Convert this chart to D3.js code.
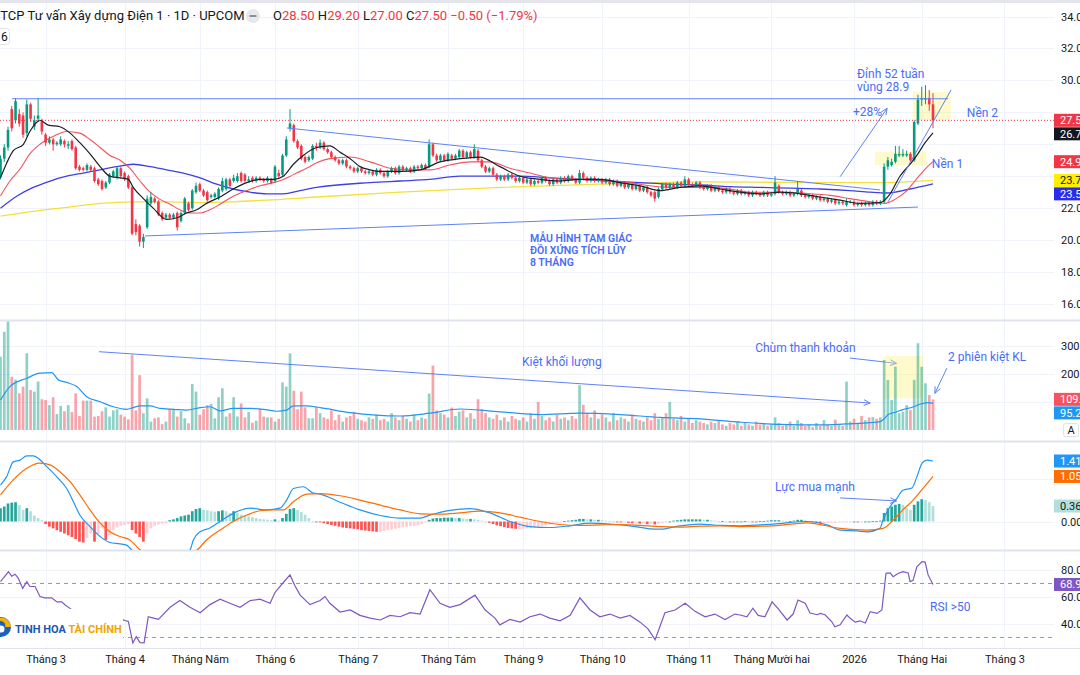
<!DOCTYPE html>
<html lang="vi">
<head>
<meta charset="utf-8">
<title>CTCP Tư vấn Xây dựng Điện 1 · 1D · UPCOM</title>
<script src="https://cdn.jsdelivr.net/npm/d3@7/dist/d3.min.js"></script>
<style>
html,body{margin:0;padding:0;background:#fff;}
svg{display:block;font-family:Roboto,"Noto Sans","DejaVu Sans",sans-serif;}
</style>
</head>
<body>
<svg id="chart" width="1080" height="675"></svg>
<script>
// ---------------- DATA ----------------
const opens = [24.0,25.1,25.8,28.2,27.5,27.9,27.8,26.7,28.5,27.1,
27.6,27.4,26.6,26.1,26.3,26.0,26.0,26.2,25.9,26.2,
25.8,24.6,24.5,24.4,24.6,24.5,23.8,23.7,23.3,23.6,
24.0,23.9,24.5,24.2,24.0,23.3,21.0,20.9,19.9,20.8,
22.3,22.6,22.4,21.7,21.4,21.6,21.4,21.7,21.2,21.7,
22.3,22.0,23.0,23.5,23.1,23.0,22.7,22.7,22.6,23.1,
23.2,23.8,23.7,23.7,24.2,24.1,23.7,23.9,23.7,23.9,
23.8,23.7,23.8,23.7,24.2,24.1,25.3,27.0,27.2,26.2,
25.9,25.2,25.0,25.1,25.9,25.8,26.1,25.7,25.5,25.2,
25.0,24.8,25.0,24.6,24.5,24.3,24.5,24.3,24.2,24.3,
24.1,24.4,24.2,24.0,24.3,24.5,24.2,24.6,24.4,24.5,
24.3,24.6,24.5,24.7,24.6,26.0,25.3,25.0,25.3,25.0,
25.3,25.1,25.2,25.6,25.2,25.5,25.2,25.6,25.0,24.6,
24.3,24.5,24.1,23.8,24.0,23.8,24.1,23.9,23.7,23.9,
23.6,23.8,23.5,23.7,23.6,23.9,23.7,23.5,23.8,23.6,
23.9,23.7,24.0,23.8,23.6,24.2,23.9,23.7,23.9,23.7,
23.8,23.6,23.8,23.5,23.7,23.4,23.6,23.3,23.5,23.2,
23.4,23.1,23.3,23.0,23.0,22.7,23.2,23.5,23.3,23.5,
23.3,23.6,23.4,23.8,23.5,23.4,23.6,23.3,23.2,23.4,
23.1,23.3,23.1,23.0,23.2,23.0,22.9,23.1,22.9,23.0,
22.8,23.0,22.9,22.8,23.0,22.8,22.9,23.4,23.0,22.9,
23.0,22.8,22.9,23.1,22.8,22.7,22.8,22.6,22.7,22.5,
22.6,22.4,22.5,22.3,22.4,22.2,22.4,22.4,22.2,22.3,
22.2,22.3,22.2,22.4,22.3,22.4,24.6,24.7,24.9,25.3,
25.3,25.3,25.4,25.0,27.3,28.8,28.8,28.9,28.5];
const highs = [25.3,26.0,27.1,28.4,28.9,28.2,28.0,28.8,28.6,27.8,
28.9,27.6,26.7,26.5,26.4,26.2,26.5,26.3,26.2,26.3,
25.9,24.7,24.6,24.8,24.7,24.6,23.9,23.8,23.7,24.2,
24.4,24.6,24.6,24.3,24.1,23.4,21.3,21.0,20.4,22.8,
23.0,22.7,22.5,21.8,21.7,21.7,21.7,21.8,21.8,22.7,
22.4,23.2,23.6,23.6,23.2,23.1,22.9,23.0,23.3,23.9,
23.9,23.9,24.1,24.2,24.3,24.2,24.0,24.0,24.0,24.0,
23.9,24.0,23.9,24.7,24.4,25.4,26.5,28.2,27.3,26.3,
26.0,25.3,25.3,26.0,26.1,26.3,26.2,25.8,25.6,25.3,
25.1,25.1,25.1,24.7,24.6,24.6,24.6,24.4,24.4,24.4,
24.5,24.5,24.3,24.4,24.6,24.6,24.7,24.7,24.6,24.6,
24.7,24.7,24.8,24.8,26.3,26.1,25.4,25.4,25.4,25.5,
25.4,25.4,25.7,25.7,25.6,25.6,26.0,25.7,25.1,24.7,
24.6,24.6,24.2,24.1,24.1,24.2,24.2,24.0,24.0,24.0,
23.9,23.9,23.8,23.8,24.0,24.0,23.8,23.9,23.9,24.0,
24.0,24.1,24.1,23.9,24.4,24.3,24.0,24.0,24.0,23.9,
23.9,23.9,23.9,23.8,23.8,23.7,23.7,23.6,23.6,23.5,
23.5,23.4,23.4,23.1,23.1,23.3,23.6,23.6,23.6,23.6,
23.7,23.7,24.0,23.9,23.6,23.7,23.7,23.4,23.5,23.5,
23.4,23.4,23.2,23.3,23.3,23.1,23.2,23.2,23.1,23.1,
23.1,23.1,23.0,23.1,23.1,23.0,24.0,23.5,23.1,23.1,
23.1,23.0,23.7,23.2,22.9,22.9,22.9,22.8,22.8,22.7,
22.7,22.6,22.6,22.5,22.5,22.6,22.5,22.5,22.4,22.4,
22.4,22.4,22.5,22.5,22.5,24.8,25.2,25.1,25.9,25.9,
25.7,25.6,25.5,27.5,29.1,29.6,29.7,29.4,29.2];
const lows = [23.8,24.9,25.6,26.8,27.3,27.1,26.4,26.5,27.4,26.9,
27.4,26.6,25.9,26.0,25.6,25.9,25.9,25.8,25.7,25.6,
24.4,24.3,24.3,24.3,24.3,23.6,23.4,23.1,23.2,23.5,
23.9,23.8,23.9,23.7,23.2,20.3,20.3,19.6,19.5,20.7,
22.2,22.3,21.5,21.2,21.3,21.3,21.3,20.6,21.1,21.6,
21.8,21.9,22.9,23.0,22.7,22.4,22.6,22.6,22.5,23.0,
23.1,23.3,23.6,23.6,23.6,23.6,23.6,23.6,23.6,23.7,
23.6,23.6,23.5,23.6,23.9,24.0,25.2,26.8,26.1,25.7,
25.0,24.8,24.9,25.0,25.6,25.7,25.6,25.4,25.1,24.9,
24.7,24.7,24.5,24.4,24.2,24.2,24.2,24.1,24.1,24.0,
24.0,24.1,23.9,23.9,24.2,24.1,24.1,24.3,24.3,24.2,
24.2,24.4,24.4,24.4,24.5,25.2,24.9,24.9,24.9,24.9,
25.0,25.0,25.1,25.1,25.1,25.1,25.1,24.9,24.5,24.2,
24.2,24.0,23.7,23.7,23.7,23.7,23.8,23.6,23.6,23.5,
23.5,23.4,23.4,23.5,23.5,23.6,23.4,23.4,23.5,23.5,
23.6,23.6,23.7,23.5,23.5,23.8,23.6,23.6,23.6,23.6,
23.5,23.5,23.4,23.4,23.3,23.3,23.2,23.2,23.1,23.1,
23.0,23.0,22.9,22.7,22.4,22.6,23.1,23.2,23.2,23.2,
23.2,23.3,23.3,23.4,23.3,23.3,23.2,23.1,23.1,23.0,
23.0,23.0,22.9,22.9,22.9,22.8,22.8,22.8,22.8,22.7,
22.7,22.8,22.7,22.7,22.7,22.7,22.8,22.9,22.8,22.8,
22.7,22.7,22.8,22.7,22.6,22.6,22.5,22.5,22.4,22.4,
22.3,22.3,22.2,22.2,22.2,22.1,22.3,22.1,22.1,22.1,
22.1,22.1,22.1,22.2,22.2,22.3,24.4,24.6,24.8,25.2,
25.2,25.2,24.9,24.9,27.2,28.4,28.5,28.1,27.0];
const closes = [25.1,25.8,26.9,27.0,28.7,27.3,26.6,28.5,27.6,27.5,
27.8,26.8,26.1,26.3,26.0,26.1,26.3,26.0,26.0,25.7,
24.5,24.4,24.4,24.7,24.4,23.7,23.5,23.2,23.6,24.1,
24.3,24.5,24.0,23.8,23.3,20.4,20.5,19.9,20.2,22.6,
22.7,22.4,21.6,21.3,21.6,21.4,21.6,20.8,21.7,22.6,
21.9,23.1,23.4,23.1,22.8,22.5,22.8,22.9,23.2,23.7,
23.8,23.4,23.9,24.0,23.7,23.7,23.8,23.7,23.9,23.8,
23.7,23.9,23.6,24.6,24.0,25.3,26.3,27.3,26.2,25.8,
25.1,24.9,25.2,25.9,25.8,26.1,25.7,25.5,25.2,25.0,
24.8,25.0,24.6,24.5,24.3,24.5,24.3,24.2,24.3,24.1,
24.4,24.2,24.0,24.3,24.5,24.2,24.6,24.4,24.5,24.3,
24.6,24.5,24.7,24.5,26.0,25.3,25.0,25.3,25.0,25.4,
25.1,25.3,25.6,25.2,25.5,25.2,25.7,25.0,24.6,24.3,
24.5,24.1,23.8,24.0,23.8,24.1,23.9,23.7,23.9,23.6,
23.8,23.5,23.7,23.6,23.9,23.7,23.5,23.8,23.6,23.9,
23.7,24.0,23.8,23.6,24.2,23.9,23.7,23.9,23.7,23.8,
23.6,23.8,23.5,23.7,23.4,23.6,23.3,23.5,23.2,23.4,
23.1,23.3,23.0,22.8,22.6,23.2,23.5,23.3,23.5,23.3,
23.6,23.4,23.8,23.5,23.4,23.6,23.3,23.2,23.4,23.1,
23.3,23.1,23.0,23.2,23.0,22.9,23.1,22.9,23.0,22.8,
23.0,22.9,22.8,23.0,22.8,22.9,23.6,23.0,22.9,23.0,
22.8,22.9,23.2,22.8,22.7,22.8,22.6,22.7,22.5,22.6,
22.4,22.5,22.3,22.4,22.3,22.4,22.4,22.2,22.3,22.2,
22.3,22.2,22.4,22.3,22.4,24.6,25.0,24.9,25.4,25.4,
25.4,25.4,25.0,27.4,28.8,28.9,28.9,28.5,27.5];
// volume, thousands of shares
const volumes = [262,351,387,190,180,131,155,274,143,137,
173,110,107,89,117,57,86,67,89,64,
131,50,105,105,105,48,50,67,81,48,
70,74,55,48,38,268,70,196,60,113,
30,42,45,21,30,76,76,48,67,42,
24,164,137,55,74,89,93,42,117,149,
48,60,117,48,95,45,64,26,33,76,
48,45,45,30,40,170,155,274,140,74,
137,81,42,42,83,
60,45,40,70,35,55,30,45,50,65,40,35,30,45,40,
55,35,40,30,60,45,35,50,40,30,55,35,45,40,
130,
230,70,60,55,45,80,50,65,70,45,60,40,110,75,60,45,
40,55,35,45,30,50,40,35,45,30,60,40,100,50,35,45,30,55,40,45,35,50,40,
160,
90,60,45,70,40,55,45,30,60,35,45,40,30,55,40,35,30,45,35,60,40,
45,60,100,40,35,50,30,40,25,35,30,25,20,30,25,35,20,15,25,20,30,15,25,20,15,30,20,25,15,
20,45,25,15,20,30,15,35,25,15,20,10,25,15,35,20,15,37,20,15,
173,30,40,25,50,35,45,46,40,45,
250,179,107,226,60,65,89,71,179,310,226,167,125,109];
const macdHist = [0.31,0.35,0.42,0.44,0.45,0.38,0.27,0.31,0.24,0.14,0.08,0.03,
-0.06,-0.12,-0.16,-0.2,-0.24,-0.28,-0.32,-0.36,-0.41,-0.47,-0.49,
-0.39,-0.28,-0.47,-0.30,-0.16,-0.43,-0.32,-0.2,-0.14,-0.1,-0.08,-0.06,
-0.2,-0.28,-0.36,-0.47,-0.28,-0.16,-0.1,-0.07,-0.05,-0.04,
0.03,0.05,0.08,0.12,0.14,0.16,0.24,0.29,0.31,0.27,0.26,0.24,0.23,0.24,0.26,0.24,0.2,0.24,0.2,0.16,
0.14,0.12,0.1,0.08,0.06,0.05,0.04,0.03,0.05,0.02,0.08,0.18,0.29,0.31,0.27,0.22,0.16,0.08,0.0,-0.01,
-0.02,-0.04,-0.06,-0.08,-0.1,-0.12,
-0.14,-0.15,-0.16,-0.17,-0.18,-0.2,-0.21,-0.22,-0.23,-0.24,-0.24,
-0.22,-0.2,-0.19,-0.17,-0.15,-0.13,-0.12,-0.11,-0.1,-0.09,
-0.06,-0.02,0.04,0.07,0.08,0.08,0.09,0.09,0.09,0.08,0.08,0.07,0.06,
0.06,0.05,0.04,0.02,0.0,-0.03,-0.06,-0.09,
-0.11,-0.13,-0.15,-0.16,-0.17,-0.17,-0.17,-0.16,-0.15,-0.14,-0.13,
-0.11,-0.09,-0.07,-0.05,-0.03,-0.01,0.01,0.02,0.03,0.04,
0.06,0.06,0.05,0.05,0.04,0.04,0.03,0.02,0.01,0.0,-0.01,
-0.02,-0.02,-0.03,-0.04,-0.04,-0.05,-0.05,-0.06,-0.06,-0.07,-0.06,
-0.04,-0.02,0.0,0.02,0.03,0.04,0.05,0.05,0.05,0.05,0.05,
0.04,0.04,0.03,0.02,0.01,0.01,0.0,0.0,-0.01,0.0,
0.0,0.01,0.0,-0.01,0.0,0.01,0.01,0.02,
0.03,0.03,0.03,0.02,0.01,0.01,0.02,
0.04,0.04,0.03,0.01,-0.01,
-0.03,-0.04,-0.04,-0.04,-0.03,-0.03,-0.02,
-0.02,-0.01,-0.01,0.0,-0.01,-0.01,0.0,0.0,0.01,0.01,0.02,
0.2,0.31,0.35,0.39,0.41,0.39,0.31,0.27,0.39,0.47,0.52,0.50,0.45,0.36];
// line series as [bar index, value] points
const ma10 = [[0,23.9],[1.6,24.8],[3.4,25.6],[6.1,26.0],[7.8,26.8],[10.5,27.5],[12.7,27.2],[15.8,27.1],[18.5,26.7],[21.1,26.1],[23.8,25.4],[26.5,24.6],[29.1,24.0],[31.8,23.9],[34,23.8],[35.3,23.3],[38,22.6],[40.6,22.0],[44.2,21.3],[46.9,21.4],[49.5,21.7],[52.2,21.9],[54.8,22.3],[58.4,22.7],[61.9,23.2],[65.5,23.6],[69,23.8],[72.6,23.8],[75.2,24.0],[77.9,24.75],[80.5,25.3],[84.1,25.8],[87.6,25.9],[90.3,25.5],[93,25.1],[95.6,24.6],[98.3,24.4],[101,24.3],[106.3,24.3],[111.6,24.4],[116.9,24.9],[122.2,25.1],[127.5,25.2],[132.8,24.6],[138.2,24.0],[143.5,23.8],[148.8,23.7],[154.1,23.8],[159.4,23.8],[164.8,23.6],[170.1,23.4],[175.4,23.1],[180.7,23.3],[186,23.4],[191.4,23.2],[196.7,23.0],[202,22.9],[207.3,23.0],[212.6,22.9],[218,22.7],[223.3,22.5],[228.6,22.3],[233.9,22.35],[236.6,22.9],[239.2,24.0],[241.9,24.75],[243.7,25.3],[245.9,26.1],[248,26.72]];
const ma20 = [[0,22.76],[2.5,23.7],[5.2,24.45],[7.8,25.4],[10.5,26.0],[14.1,26.5],[17.6,26.8],[21.1,26.7],[23.8,26.3],[26.5,25.8],[29.1,25.3],[31.8,25.0],[34.4,24.5],[37.1,23.7],[39.8,23.0],[42.4,22.55],[45.1,22.25],[47.7,21.9],[50.4,21.7],[53.1,21.7],[55.7,21.9],[58.4,22.25],[61.9,22.75],[65.5,23.1],[69,23.4],[72.6,23.6],[75.2,23.8],[77.9,24.1],[81.4,24.5],[84.1,24.85],[87.6,25.1],[93,25.2],[98.3,24.9],[103.6,24.5],[108.9,24.4],[114.2,24.4],[119.5,24.7],[124.9,24.9],[130.2,24.9],[135.5,24.5],[140.8,24.2],[146.1,23.9],[151.5,23.8],[156.8,23.8],[162.1,23.7],[167.4,23.6],[172.7,23.4],[178.1,23.3],[183.4,23.3],[188.7,23.3],[194,23.2],[199.3,23.0],[204.7,23.0],[210,23.0],[215.3,22.9],[220.6,22.8],[225.9,22.6],[231.3,22.4],[235.2,22.3],[237.9,22.55],[240.6,23.0],[243.2,23.7],[245.9,24.45],[248,24.91]];
const ma50 = [[0,22.0],[4.3,22.75],[8.7,23.3],[13.2,23.7],[17.6,24.0],[22,24.2],[26.5,24.4],[30.9,24.6],[35.3,24.75],[39.8,24.6],[44.2,24.4],[48.6,24.2],[53.1,23.9],[57.5,23.5],[61.9,23.2],[66.4,23.0],[70.8,22.9],[75.2,22.9],[79.7,23.1],[84.1,23.3],[98.3,23.6],[106.3,23.7],[114.2,23.8],[122.2,24.0],[130.2,24.0],[138.2,24.0],[146.1,23.9],[154.1,23.8],[162.1,23.7],[170.1,23.6],[178.1,23.5],[186,23.45],[194,23.35],[202,23.3],[210,23.25],[218,23.2],[225.9,23.1],[231.3,23.0],[235.8,22.95],[241.9,23.2],[248,23.52]];
const ma200 = [[0,21.5],[8.7,21.8],[17.6,22.05],[26.5,22.3],[35.3,22.4],[44.2,22.4],[53.1,22.35],[61.9,22.4],[70.8,22.5],[84.1,22.7],[106.3,23.0],[132.8,23.3],[159.4,23.5],[186,23.65],[218,23.6],[233.9,23.6],[248,23.74]];
const volMA = [[0,107],[2.5,155],[7,185],[10.5,203],[13.6,205],[15.4,179],[17.6,170],[20.3,155],[22.9,119],[26.5,101],[30,83],[33.6,74],[35.3,80],[37.1,86],[39.8,86],[42.4,77],[46,74],[49.5,71],[53.1,80],[55.7,83],[58.4,68],[61.9,77],[66.4,77],[69.9,74],[73.5,67],[76.1,71],[77.9,86],[81.4,86],[85,80],[93,62],[106.3,50],[114.2,60],[122.2,75],[132.8,65],[143.5,55],[154.1,60],[164.8,55],[175.4,45],[186,40],[196.7,28],[207.3,20],[218,18],[224.9,22],[231.3,26],[233.9,30],[235,39],[236.1,55],[238.4,65],[240,73],[242.7,82],[244.5,92],[246.7,98],[248,95.2]];
const macdLine = [[0,0.85],[1.6,1.04],[3.4,1.39],[5.2,1.43],[7,1.53],[8.7,1.53],[10.1,1.47],[12.3,1.28],[15,1.04],[17.6,0.77],[19.4,0.46],[21.1,0.15],[23.8,-0.12],[26.5,-0.35],[29.1,-0.49],[31.8,-0.52],[33.5,-0.55],[35.3,-0.7],[38,-0.95],[42,-1.05],[46,-0.95],[49.5,-0.75],[50.4,-0.67],[51.3,-0.43],[53.1,-0.24],[55.7,-0.15],[58.4,0.0],[61.9,0.19],[66.4,0.31],[70.8,0.27],[74.3,0.31],[76.1,0.5],[77.9,0.77],[80.5,0.81],[83.2,0.66],[85,0.64],[90.3,0.45],[95.6,0.27],[101,0.14],[106.3,0.08],[111.6,0.08],[114.2,0.15],[119.5,0.26],[124.9,0.3],[130.2,0.2],[135.5,0.0],[140.8,-0.12],[146.1,-0.14],[151.5,-0.1],[156.8,-0.04],[162.1,-0.06],[167.4,-0.1],[172.7,-0.17],[175.4,-0.18],[180.7,-0.1],[186,-0.06],[191.4,-0.09],[196.7,-0.1],[205.5,-0.06],[214.5,0.0],[219.8,-0.08],[223.3,-0.2],[227.8,-0.22],[230.5,-0.24],[233.9,-0.16],[234.7,0.03],[236.6,0.35],[238.4,0.54],[240,0.73],[242.4,0.78],[243.7,1.04],[245.1,1.36],[246.4,1.43],[248,1.41]];
const signalLine = [[0,0.62],[3.4,0.97],[7,1.24],[10.5,1.36],[13.2,1.32],[15.8,1.16],[18.5,0.93],[21.1,0.62],[23.8,0.27],[26.5,-0.04],[29.1,-0.24],[31.8,-0.35],[34.4,-0.43],[37.1,-0.66],[40,-0.8],[44,-0.88],[48,-0.8],[52.2,-0.67],[54.8,-0.43],[58.4,-0.2],[61.9,0.0],[65.5,0.15],[69,0.25],[72.6,0.27],[75.2,0.27],[77.9,0.46],[81.4,0.64],[85,0.65],[90.3,0.6],[95.6,0.5],[101,0.38],[106.3,0.27],[111.6,0.18],[116.9,0.17],[122.2,0.2],[127.5,0.24],[132.8,0.2],[138.2,0.1],[143.5,0.0],[148.8,-0.07],[154.1,-0.09],[159.4,-0.08],[164.8,-0.07],[170.1,-0.09],[175.4,-0.12],[180.7,-0.13],[186,-0.11],[191.4,-0.1],[196.7,-0.12],[205.5,-0.1],[214.5,-0.03],[223.3,-0.16],[230.5,-0.2],[234.7,-0.16],[237.4,0.03],[240,0.27],[242.7,0.5],[245.4,0.78],[248,1.05]];
const rsi = [[0,71],[0.75,73.7],[2.1,78.3],[3,75],[3.9,76.5],[4.7,73.7],[5.9,66],[7,71],[7.8,67.4],[9.2,67.4],[10.5,60],[11.8,59],[13.6,59],[15,56],[16.3,56],[17.2,53.7],[18.5,51.2],[19.2,49.5],[22,44],[25,36],[28,40],[31,47],[32.7,42.6],[34,41.5],[35.2,25.6],[36.1,30.3],[37.1,25.8],[38.2,25.6],[39.3,45],[40.7,44],[42,43],[45.1,52],[47.7,57],[50.4,52],[53.1,48],[55.7,54],[58.4,58],[61,55],[63.7,52],[66.4,57],[69,58],[71.7,55],[73,63],[75.1,70],[77,76],[78.3,68],[79.7,61],[82.3,54],[85,57],[86.3,60],[87.6,55],[90.3,48.5],[93,50],[95.6,46],[98.3,44],[101,42.6],[103.6,46],[106.3,45],[108.9,48],[111.6,47],[114.2,65],[116.9,55],[119.5,52],[122.2,54],[126.2,61],[128.9,50],[131.5,44],[132.8,39],[135.5,43],[138.2,41],[140.8,45],[143.5,47],[146.1,44],[148.8,42],[151.5,46],[154.1,59],[156.8,50],[159.4,45],[162.1,47],[164.8,44],[167.4,46],[170.1,41],[172.2,36],[174.1,28],[176.7,48],[179.4,50],[182.1,55],[184.7,49],[187.4,45],[190,47],[192.7,43],[195.3,47],[196.7,46.3],[198.5,45],[200.1,51.3],[201.5,46],[203.3,45],[205.2,56],[206.8,51],[209.2,42.6],[210.8,47],[212.1,57.4],[214,55],[215.3,47.8],[217.2,46.5],[218,47.5],[219.3,46.5],[221.1,41.3],[221.9,37.6],[223.3,39],[225.1,46.3],[225.9,44],[227.3,41],[228.6,42],[230,40.4],[231.3,48.8],[233.1,47.5],[234.4,50],[235.5,77.2],[236.6,77.5],[237.4,74.7],[238.7,77],[240,78.4],[241.4,77.5],[241.9,71],[242.7,72],[243.7,82],[245.1,85.8],[245.9,85.5],[246.7,76],[248,68.9]];
const monthTicks = [{label:"Tháng 3",bar:12},{label:"Tháng 4",bar:33},{label:"Tháng Năm",bar:53},{label:"Tháng 6",bar:73},{label:"Tháng 7",bar:95},{label:"Tháng Tám",bar:119},{label:"Tháng 9",bar:139},{label:"Tháng 10",bar:160},{label:"Tháng 11",bar:183},{label:"Tháng Mười hai",bar:205},{label:"2026",bar:227},{label:"Tháng Hai",bar:245},{label:"Tháng 3",bar:267}];
const priceTicks = [16,18,20,22,24,26,28,30,32,34];
const volTicks = [200,300];
const macdTicks = [0];
const rsiTicks = [40,60,80];
const lastValues = {close:27.5, ma10:26.72, ma20:24.91, ma200:23.74, ma50:23.52, vol:109.4, volMA:95.2, macd:1.41, signal:1.05, hist:0.36, rsi:68.9};

// ---------------- LAYOUT ----------------
const PR = 1054;
const svg = d3.select("#chart");
const x = d3.scaleLinear().domain([0, 248]).range([0.5, 933]);
const yP = d3.scaleLinear().domain([16, 34]).range([304, 16.5]);
const yV = d3.scaleLinear().domain([0, 300]).range([430, 346]);
const yM = d3.scaleLinear().domain([0, 1]).range([521.5, 478.6]);
const yR = d3.scaleLinear().domain([30, 70]).range([637, 583]);
const panes = {price:[0,320], vol:[321,441], macd:[442,550], rsi:[551,648]};
const defs = svg.append("defs");
Object.entries(panes).forEach(([k,[a,b]]) => {
  defs.append("clipPath").attr("id","clip-"+k).append("rect").attr("x",0).attr("y",a).attr("width",PR).attr("height",b-a);
});
const UP = "#089981", DN = "#F23645";
const DRAW = "#5f82f7", NOTE = "#4a6cf7";
const N = Math.min(opens.length, highs.length, lows.length, closes.length);
const bars = d3.range(N);
const crisp = v => Math.round(v) + 0.5;

// grid
const grid = svg.append("g").attr("stroke","#f0f3fa").attr("stroke-width",1);
grid.selectAll("line.v").data(monthTicks).join("line").attr("class","v")
  .attr("x1",d=>crisp(x(d.bar))).attr("x2",d=>crisp(x(d.bar))).attr("y1",0).attr("y2",648);
function hgrid(vals, sc){ grid.append("g").selectAll("line").data(vals).join("line")
  .attr("x1",0).attr("x2",PR).attr("y1",d=>crisp(sc(d))).attr("y2",d=>crisp(sc(d))); }
hgrid(priceTicks,yP); hgrid([100,200,300],yV); hgrid([0,1],yM); hgrid(rsiTicks,yR);

// separators
const sep = svg.append("g").attr("stroke","#e0e3eb");
[320.5, 441.5, 550.5].forEach(v => sep.append("line").attr("x1",0).attr("x2",1080).attr("y1",v).attr("y2",v).attr("stroke-width",2));
sep.append("line").attr("x1",0).attr("x2",1080).attr("y1",648.5).attr("y2",648.5);

// ---------------- PRICE PANE ----------------
const gP = svg.append("g").attr("clip-path","url(#clip-price)");
const boxes = [{a:[232.6,25.53], b:[246.3,24.70]}, {a:[242.6,29.29], b:[252.7,27.52]}];
gP.selectAll("rect.box").data(boxes).join("rect").attr("class","box")
  .attr("x",d=>x(d.a[0])).attr("y",d=>yP(d.a[1])).attr("width",d=>x(d.b[0])-x(d.a[0])).attr("height",d=>yP(d.b[1])-yP(d.a[1]))
  .attr("fill","rgba(255,241,118,0.38)");

const lineP = d3.line().x(d=>x(d[0])).y(d=>yP(d[1])).curve(d3.curveMonotoneX);
[[ma200,"#F2E13A",1.3],[ma50,"#3F3FE6",1.3],[ma20,"#F0545E",1.1]].forEach(([d,c,w]) =>
  gP.append("path").datum(d).attr("d",lineP).attr("fill","none").attr("stroke",c).attr("stroke-width",w));

// candles
const cg = gP.append("g");
cg.selectAll("line").data(bars).join("line")
  .attr("x1",i=>x(i)).attr("x2",i=>x(i)).attr("y1",i=>yP(highs[i])).attr("y2",i=>yP(lows[i]))
  .attr("stroke",i=>closes[i]>=opens[i]?UP:DN).attr("stroke-width",1);
cg.selectAll("rect").data(bars).join("rect")
  .attr("x",i=>x(i)-1.3).attr("width",2.6)
  .attr("y",i=>yP(Math.max(opens[i],closes[i])))
  .attr("height",i=>Math.max(1,Math.abs(yP(opens[i])-yP(closes[i]))))
  .attr("fill",i=>closes[i]>=opens[i]?UP:DN);
gP.append("path").datum(ma10).attr("d",lineP).attr("fill","none").attr("stroke","#1c1f2a").attr("stroke-width",1.2);

// drawings
function arrowHead(g, x1,y1,x2,y2,color){
  const a = Math.atan2(y2-y1,x2-x1), L=7, s=0.42;
  [a+Math.PI-s, a+Math.PI+s].forEach(t => g.append("line").attr("x1",x2).attr("y1",y2)
    .attr("x2",x2+L*Math.cos(t)).attr("y2",y2+L*Math.sin(t)).attr("stroke",color).attr("stroke-width",1));
}
function seg(g, sx, sy, d, arrow){
  const x1=x(d.a[0]), y1=sy(d.a[1]), x2=x(d.b[0]), y2=sy(d.b[1]);
  g.append("line").attr("x1",x1).attr("y1",y1).attr("x2",x2).attr("y2",y2).attr("stroke",DRAW).attr("stroke-width",1);
  if (arrow) arrowHead(g,x1,y1,x2,y2,DRAW);
}
const priceLines = [{a:[3.1,28.85],b:[252,28.85]},{a:[76.2,27.02],b:[233.9,23.14]},{a:[38.4,20.26],b:[244,22.07]},{a:[236,22.38],b:[252.8,29.4]}];
const priceArrows = [{a:[223.3,23.97],b:[235.8,28.25]}];
const gD = svg.append("g");
priceLines.forEach(d=>seg(gD,x,yP,d,false));
priceArrows.forEach(d=>seg(gD,x,yP,d,true));
// last price line
gP.append("line").attr("x1",0).attr("x2",PR).attr("y1",yP(lastValues.close)).attr("y2",yP(lastValues.close))
  .attr("stroke",DN).attr("stroke-dasharray","1,2").attr("stroke-width",1);

const priceNotes = [{i:227.8,v:30.15,t:"Đỉnh 52 tuần"},{i:227.8,v:29.34,t:"vùng 28.9"},{i:226.7,v:27.77,t:"+28%"},{i:257,v:27.68,t:"Nền 2"},{i:247.7,v:24.54,t:"Nền 1"}];
gD.selectAll("text.pn").data(priceNotes).join("text").attr("class","pn")
  .attr("x",d=>x(d.i)).attr("y",d=>yP(d.v)).attr("fill",NOTE).attr("font-size",12).text(d=>d.t);
const patternNote = {i:140.8, v:[19.88,19.13,18.38], t:["MẪU HÌNH TAM GIÁC","ĐỒI XỨNG TÍCH LŨY","8 THÁNG"]};
patternNote.t.forEach((t,k)=> gD.append("text").attr("x",x(patternNote.i)).attr("y",yP(patternNote.v[k]))
  .attr("fill",NOTE).attr("font-size",10.5).attr("font-weight",600).text(t));

// ---------------- VOLUME PANE ----------------
const gV = svg.append("g").attr("clip-path","url(#clip-vol)");
const volBox = {a:[234.8,264], b:[245.4,113]};
gV.append("rect").attr("x",x(volBox.a[0])).attr("y",yV(volBox.a[1])).attr("width",x(volBox.b[0])-x(volBox.a[0]))
  .attr("height",yV(volBox.b[1])-yV(volBox.a[1])).attr("fill","rgba(255,241,118,0.38)");
gV.selectAll("rect.vb").data(d3.range(Math.min(N,volumes.length))).join("rect").attr("class","vb")
  .attr("x",i=>x(i)-1.35).attr("width",2.7).attr("y",i=>yV(volumes[i])).attr("height",i=>yV(0)-yV(volumes[i]))
  .attr("fill",i=>closes[i]>=opens[i]?"rgba(8,153,129,0.45)":"rgba(242,54,69,0.45)");
gV.append("path").datum(volMA).attr("d",d3.line().x(d=>x(d[0])).y(d=>yV(d[1])).curve(d3.curveMonotoneX))
  .attr("fill","none").attr("stroke","#2196F3").attr("stroke-width",1.2);
[{a:[26.2,279.6],b:[231.3,96.4]},{a:[225.9,257],b:[238.3,238]},{a:[251.7,221],b:[248.5,131]}].forEach(d=>seg(gD,x,yV,d,true));
const volNotes = [{i:138.7,v:228.6,t:"Kiệt khối lượng"},{i:200.7,v:278.6,t:"Chùm thanh khoản"},{i:252,v:248.2,t:"2 phiên kiệt KL"}];
gD.selectAll("text.vn").data(volNotes).join("text").attr("class","vn")
  .attr("x",d=>x(d.i)).attr("y",d=>yV(d.v)).attr("fill",NOTE).attr("font-size",12).text(d=>d.t);

// ---------------- MACD PANE ----------------
const gM = svg.append("g").attr("clip-path","url(#clip-macd)");
gM.selectAll("rect").data(d3.range(Math.min(N,macdHist.length))).join("rect")
  .attr("x",i=>x(i)-1.35).attr("width",2.7)
  .attr("y",i=>Math.min(yM(0),yM(macdHist[i]))).attr("height",i=>Math.max(0.8,Math.abs(yM(macdHist[i])-yM(0))))
  .attr("fill",i=>{const h=macdHist[i], p=i>0?macdHist[i-1]:h;
     return h>=0 ? (h>=p?"#26A69A":"#B2DFDB") : (h<p?"#FF5252":"#FFCDD2");});
const lineM = d3.line().x(d=>x(d[0])).y(d=>yM(d[1])).curve(d3.curveMonotoneX);
gM.append("path").datum(macdLine).attr("d",lineM).attr("fill","none").attr("stroke","#2196F3").attr("stroke-width",1.2);
gM.append("path").datum(signalLine).attr("d",lineM).attr("fill","none").attr("stroke","#FF6D00").attr("stroke-width",1.2);
seg(gD,x,yM,{a:[223.3,0.55],b:[238.3,0.48]},true);
gD.append("text").attr("x",x(206)).attr("y",yM(0.71)).attr("fill",NOTE).attr("font-size",12).text("Lực mua mạnh");

// ---------------- RSI PANE ----------------
const gR = svg.append("g").attr("clip-path","url(#clip-rsi)");
[70,30].forEach(v=>gR.append("line").attr("x1",0).attr("x2",PR).attr("y1",crisp(yR(v))).attr("y2",crisp(yR(v)))
  .attr("stroke","#9598a1").attr("stroke-dasharray","4,4"));
gR.append("path").datum(rsi).attr("d",d3.line().x(d=>x(d[0])).y(d=>yR(d[1])))
  .attr("fill","none").attr("stroke","#7E57C2").attr("stroke-width",1.2);
gD.append("text").attr("x",x(247.2)).attr("y",yR(48.9)).attr("fill",NOTE).attr("font-size",12).text("RSI >50");

// logo
const logo = svg.append("g");
logo.append("rect").attr("x",0).attr("y",609).attr("width",123).attr("height",36).attr("fill","#fff");
logo.append("circle").attr("cx",1).attr("cy",627).attr("r",10).attr("fill","#1f5fbf");
logo.append("path").attr("d","M-4,619 A10,10 0 0,1 11,627 L5,627 A5,5 0 0,0 -4,623 Z").attr("fill","#f5b400");
logo.append("circle").attr("cx",1).attr("cy",629).attr("r",3.5).attr("fill","#fff");
logo.append("text").attr("x",15).attr("y",633).attr("font-size",11).attr("font-weight",700)
  .call(t=>{t.append("tspan").attr("fill","#1a57b5").text("TINH HOA ");t.append("tspan").attr("fill","#f0a500").text("TÀI CHÍNH");});

// ---------------- AXES ----------------
const priceTagVals = [lastValues.close,lastValues.ma10,lastValues.ma20,lastValues.ma200,lastValues.ma50];
function rightAxis(sc, ticks, fmt, hideNear){
  const shown = ticks.filter(t => !(hideNear||[]).some(v => Math.abs(sc(v)-sc(t)) < 11.5));
  const g = svg.append("g").attr("transform","translate(1058,0)")
    .call(d3.axisRight(sc).tickValues(shown).tickSize(0).tickPadding(3).tickFormat(fmt));
  g.select(".domain").remove();
  g.selectAll("text").attr("fill","#131722").attr("font-size",11).attr("font-family","Roboto,sans-serif");
}
rightAxis(yP, priceTicks, d3.format(".2f"), priceTagVals);
rightAxis(yV, volTicks, d=>d+"K");
rightAxis(yM, macdTicks, d3.format(".2f"));
rightAxis(yR, rsiTicks, d3.format(".2f"));
const xa = svg.append("g").attr("transform","translate(0,652)")
  .call(d3.axisBottom(x).tickValues(monthTicks.map(d=>d.bar)).tickSize(0).tickPadding(3).tickFormat((d,k)=>monthTicks[k].label));
xa.select(".domain").remove();
xa.selectAll("text").attr("fill","#131722").attr("font-size",11).attr("font-family","Roboto,sans-serif");

// value tags on right scale
function tags(list, sc){
  const items = list.map(d=>({...d, y:sc(d.v)})).sort((a,b)=>a.y-b.y);
  for (let k=1;k<items.length;k++) if (items[k].y < items[k-1].y+13.5) items[k].y = items[k-1].y+13.5;
  const g = svg.append("g");
  items.forEach(d=>{
    g.append("rect").attr("x",1054).attr("y",d.y-6.5).attr("width",30).attr("height",13).attr("fill",d.bg);
    g.append("text").attr("x",1060).attr("y",d.y+4).attr("font-size",11).attr("fill",d.fg||"#fff").text(d.t);
  });
}
tags([{v:lastValues.close,t:"27.50",bg:"#F23645"},{v:lastValues.ma10,t:"26.72",bg:"#131722"},{v:lastValues.ma20,t:"24.91",bg:"#F23645"},
      {v:lastValues.ma200,t:"23.74",bg:"#FFEE00",fg:"#131722"},{v:lastValues.ma50,t:"23.52",bg:"#2B2BEE"}], yP);
tags([{v:lastValues.vol,t:"109.4K",bg:"#F7525F"},{v:lastValues.volMA,t:"95.2K",bg:"#2196F3"}], yV);
tags([{v:lastValues.macd,t:"1.41",bg:"#2196F3"},{v:lastValues.signal,t:"1.05",bg:"#FF6D00"},{v:lastValues.hist,t:"0.36",bg:"#B2DFDB",fg:"#131722"}], yM);
tags([{v:lastValues.rsi,t:"68.90",bg:"#7E57C2"}], yR);
svg.append("rect").attr("x",1063.5).attr("y",423.5).attr("width",15).attr("height",13).attr("rx",2).attr("fill","#fff").attr("stroke","#e0e3eb");
svg.append("text").attr("x",1071).attr("y",434).attr("text-anchor","middle").attr("font-size",11).attr("fill","#131722").text("A");

// ---------------- HEADER ----------------
svg.append("rect").attr("x",0).attr("y",0).attr("width",1080).attr("height",3).attr("fill","#e4e6ec");
svg.append("text").attr("x",-8).attr("y",20).attr("font-size",13).attr("fill","#131722").text("CTCP Tư vấn Xây dựng Điện 1 · 1D · UPCOM");
svg.append("circle").attr("cx",253).attr("cy",16).attr("r",7).attr("fill","#e6e8ee");
svg.append("rect").attr("x",249.5).attr("y",15.2).attr("width",7).attr("height",1.6).attr("fill","#787b86");
const ohlc = svg.append("text").attr("x",273).attr("y",20).attr("font-size",13);
[["O","#131722"],["28.50 ",DN],["H","#131722"],["29.20 ",DN],["L","#131722"],["27.00 ",DN],["C","#131722"],["27.50 −0.50 (−1.79%)",DN]]
  .forEach(([t,c])=>ohlc.append("tspan").attr("fill",c).text(t));
svg.append("rect").attr("x",-4.5).attr("y",28.5).attr("width",14).attr("height",16).attr("rx",3).attr("fill","#fff").attr("stroke","#e0e3eb");
svg.append("text").attr("x",1).attr("y",41).attr("font-size",12).attr("fill","#131722").text("6");
</script>
</body>
</html>
